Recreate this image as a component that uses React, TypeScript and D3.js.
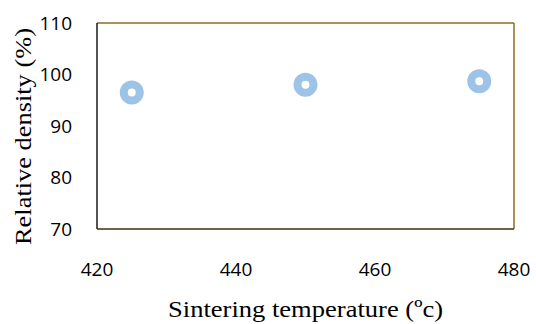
import React from "react";
import * as d3 from "d3";

const temps = [425, 450, 475];
const density = [96.5, 98.0, 98.7];
const xTicks = [420, 440, 460, 480];
const yTicks = [70, 80, 90, 100, 110];

const W = 536;
const H = 324;
const margin = { top: 23, right: 22, bottom: 95, left: 97 };

export default function App() {
  const x = d3.scaleLinear().domain([420, 480]).range([margin.left, W - margin.right]);
  const y = d3.scaleLinear().domain([70, 110]).range([H - margin.bottom, margin.top]);
  const tickFont = "'Open Sans', sans-serif";
  const serif = "'Liberation Serif', 'Times New Roman', serif";

  return (
    <svg width={W} height={H} style={{ position: "absolute", left: 0, top: 0, background: "#fff" }}>
      {/* plot frame: top/right brown, left/bottom dark */}
      <line x1={x(420)} x2={x(480)} y1={y(110)} y2={y(110)} stroke="#8c6d1f" strokeWidth={1.5} />
      <line x1={x(480)} x2={x(480)} y1={y(110)} y2={y(70)} stroke="#8c6d1f" strokeWidth={1.5} />
      <line x1={x(420)} x2={x(420)} y1={y(110)} y2={y(70)} stroke="#1a1a1a" strokeWidth={1.5} />
      <line x1={x(420)} x2={x(480)} y1={y(70)} y2={y(70)} stroke="#3d2f0c" strokeWidth={1.5} />

      {yTicks.map((t) => (
        <text key={t} x={margin.left - 25} y={y(t)} dy="0.35em" textAnchor="end"
          fontFamily={tickFont} fontSize={19} fill="#000">{t}</text>
      ))}
      {xTicks.map((t) => (
        <text key={t} x={x(t)} y={276} textAnchor="middle"
          fontFamily={tickFont} fontSize={19} fill="#000">{t}</text>
      ))}

      {temps.map((t, i) => (
        <circle key={t} cx={x(t)} cy={y(density[i])} r={8} fill="#fff"
          stroke="#9dc3e6" strokeWidth={8} />
      ))}

      <text transform="translate(31,136.5) rotate(-90)" textAnchor="middle"
        fontFamily={serif} fontSize={24} textLength={217} lengthAdjust="spacingAndGlyphs" fill="#000">
        Relative density (%)
      </text>
      <text x={305.5} y={317} textAnchor="middle"
        fontFamily={serif} fontSize={24} textLength={275} lengthAdjust="spacingAndGlyphs" fill="#000">
        Sintering temperature (ºc)
      </text>
    </svg>
  );
}
